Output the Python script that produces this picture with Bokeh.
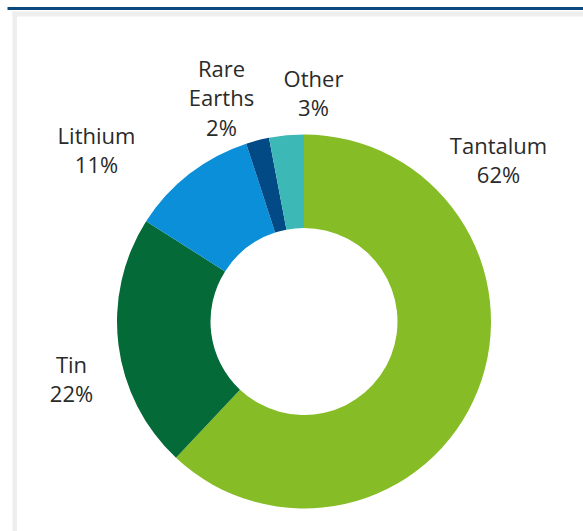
import math
from bokeh.plotting import figure
from bokeh.models import Range1d, ColumnDataSource
from bokeh.core.properties import value
from bokeh.embed import file_html
from bokeh.resources import INLINE

# ---- data ----
categories = ["Tantalum", "Tin", "Lithium", "Rare Earths", "Other"]
shares = [62, 22, 11, 2, 3]

# ---- styles / layout ----
colors = ["#86bc25", "#046a38", "#0a8fd8", "#024a86", "#3cb8b6"]
W, H = 583, 531
cx_px, cy_px = 303.5, 321.0
outer_r, inner_r = 187.0, 93.5
# label block centres (pixel coordinates from top-left)
label_pos_px = [(498, 159), (71, 378), (96, 149), (221, 97), (313, 92)]

total = float(sum(shares))
starts, ends = [], []
cum = 0.0
for v in shares:
    a0 = math.pi / 2 - 2 * math.pi * (cum + v) / total
    a1 = math.pi / 2 - 2 * math.pi * cum / total
    starts.append(a0)
    ends.append(a1)
    cum += v

src = ColumnDataSource(dict(
    cat=categories, share=shares, color=colors,
    start=starts, end=ends,
    x=[cx_px] * len(shares), y=[H - cy_px] * len(shares),
))

labels = [c.replace(" ", "\n") + "\n" + f"{v}%" for c, v in zip(categories, shares)]
lsrc = ColumnDataSource(dict(
    text=labels,
    x=[p[0] for p in label_pos_px],
    y=[H - p[1] for p in label_pos_px],
))

p = figure(width=W, height=H, x_range=Range1d(0, W), y_range=Range1d(0, H),
           output_backend="svg", toolbar_location=None,
           x_axis_type=None, y_axis_type=None, min_border=0)
p.grid.visible = False
p.outline_line_color = None
p.background_fill_color = "white"
p.border_fill_color = "white"

# decoration: top dark-blue rule and light grey panel edges
p.quad(left=[7], right=[W], bottom=[H - 9.5], top=[H - 6.5],
       fill_color="#0b4a7e", line_color=None)
p.quad(left=[12], right=[W], bottom=[H - 16], top=[H - 11],
       fill_color="#eeeeee", line_color=None)
p.quad(left=[12], right=[16.5], bottom=[0], top=[H - 11],
       fill_color="#eeeeee", line_color=None)

p.annular_wedge(x="x", y="y", inner_radius=inner_r, outer_radius=outer_r,
                start_angle="start", end_angle="end", fill_color="color",
                line_color=None, source=src)

p.text(x="x", y="y", text="text", source=lsrc,
       text_font=value("Open Sans"), text_font_size="22px",
       text_color="#2a2a2a", text_align="center", text_baseline="middle",
       text_line_height=0.97)

open("out.html", "w").write(file_html(p, INLINE))
